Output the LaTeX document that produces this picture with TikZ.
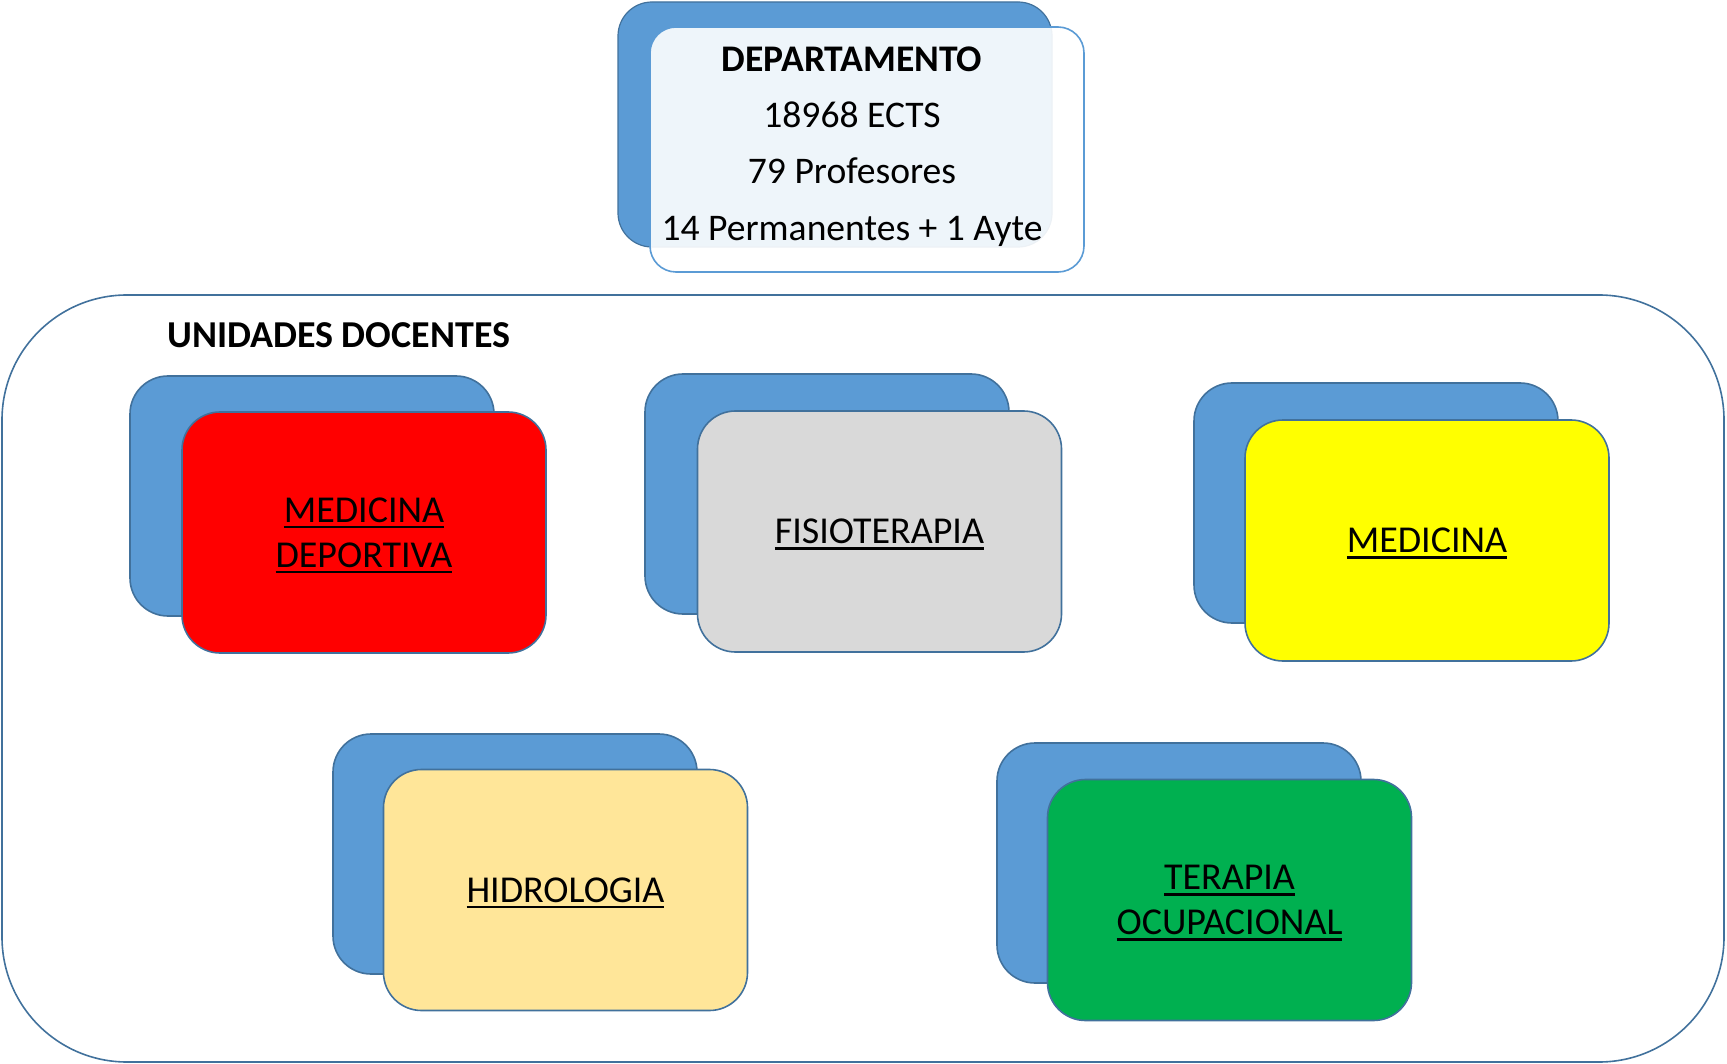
\documentclass[tikz,border=0pt]{standalone}
\usepackage{fontspec}
\setmainfont{Carlito}
\definecolor{backblue}{HTML}{5B9BD5}
\definecolor{edge}{HTML}{41719C}
\definecolor{deptedge}{HTML}{5B9BD5}
\definecolor{gris}{HTML}{D9D9D9}
\definecolor{amarillo}{HTML}{FFFF00}
\definecolor{melocoton}{HTML}{FFE699}
\definecolor{verde}{HTML}{00B050}
\newsavebox\ulbox
\newcommand\ulx[1]{\sbox\ulbox{#1}\rlap{\smash{\rule[-6pt]{\wd\ulbox}{2.4pt}}}\usebox\ulbox}
\tikzset{
  backbox/.style={draw=edge, line width=1.6pt, fill=backblue, rounded corners=38pt,
    minimum width=364pt, minimum height=240pt, inner sep=0pt},
  frontbox/.style={draw=edge, line width=1.6pt, rounded corners=38pt,
    minimum width=364pt, minimum height=241pt, inner sep=0pt, align=center,
    font=\fontsize{38}{45}\selectfont},
  deptback/.style={draw=edge, line width=1.2pt, fill=backblue, rounded corners=34pt,
    minimum width=434pt, minimum height=245pt, inner sep=0pt},
  deptfront/.style={draw=deptedge, line width=1.6pt, fill=white, fill opacity=0.9,
    rounded corners=26pt, minimum width=434pt, minimum height=245pt, inner sep=0pt},
  framebox/.style={draw=edge, line width=1.6pt, rounded corners=125pt,
    minimum width=1722pt, minimum height=767pt, inner sep=0pt},
}
\begin{document}
\begin{tikzpicture}[x=1pt,y=-1pt]
\useasboundingbox (0,0) rectangle (1727,1064);
% departamento
\node[deptback] (dback) at (835,124.5) {};
\node[deptfront] (dfront) at (867,149.5) {};
\node[align=center, inner sep=0pt, font=\fontsize{37.6}{56.3}\selectfont] (dtext) at (852,146.5)
  {\textbf{DEPARTAMENTO}\\18968 ECTS\\79 Profesores\\14 Permanentes + 1 Ayte};
% frame
\node[framebox] (frame) at (863,678.5) {};
\node[anchor=base west, inner sep=0pt, font=\fontsize{38}{45}\selectfont\bfseries] (title) at (167,347.5) {UNIDADES DOCENTES};
% units
\node[backbox] (b1) at (312,496) {};
\node[frontbox, fill=red] (f1) at (364,532.5) {\ulx{MEDICINA}\\\ulx{DEPORTIVA}};
\node[backbox] (b2) at (827,494) {};
\node[frontbox, fill=gris] (f2) at (879.5,531.5) {\ulx{FISIOTERAPIA}};
\node[backbox] (b3) at (1376,503) {};
\node[frontbox, fill=amarillo] (f3) at (1427,540.5) {\ulx{MEDICINA}};
\node[backbox] (b4) at (515,854) {};
\node[frontbox, fill=melocoton] (f4) at (565.5,890) {\ulx{HIDROLOGIA}};
\node[backbox] (b5) at (1179,863) {};
\node[frontbox, fill=verde] (f5) at (1229.5,900) {\ulx{TERAPIA}\\\ulx{OCUPACIONAL}};
\end{tikzpicture}
\end{document}
